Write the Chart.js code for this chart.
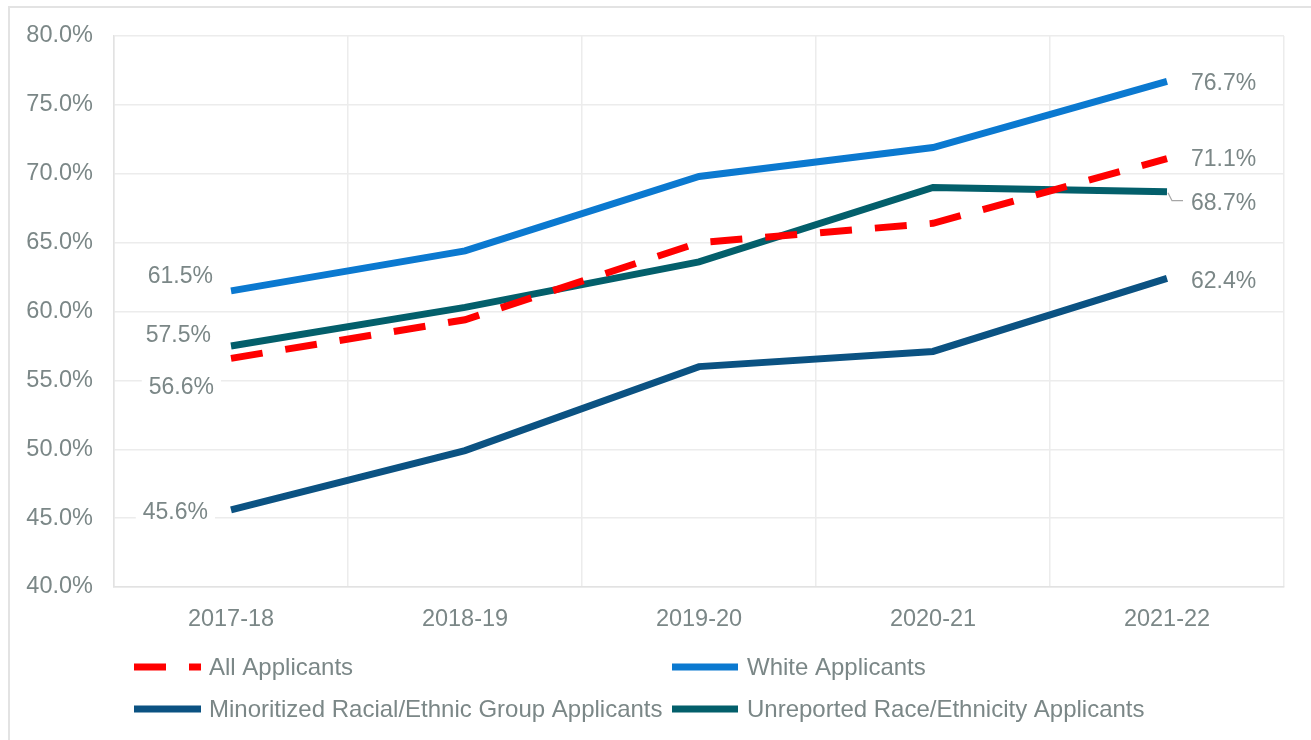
<!DOCTYPE html>
<html>
<head>
<meta charset="utf-8">
<script src="https://cdn.jsdelivr.net/npm/chart.js@4.4.0/dist/chart.umd.min.js"></script>
<style>
  html, body { margin: 0; padding: 0; background: #ffffff; overflow: hidden; }
  #frame { position: absolute; left: 8px; top: 6px; width: 1330px; height: 780px; border: 2px solid #e3e3e3; box-sizing: border-box; }
  #wrap { position: absolute; left: 0; top: 0; width: 1311px; height: 740px; }
</style>
</head>
<body>
<div id="frame"></div>
<div id="wrap"><canvas id="c" width="1311" height="740"></canvas></div>
<script>
// ---- Data ----
const categories = ['2017-18', '2018-19', '2019-20', '2020-21', '2021-22'];
const seriesNames = ['All Applicants', 'White Applicants', 'Minoritized Racial/Ethnic Group Applicants', 'Unreported Race/Ethnicity Applicants'];
const allApplicants = [56.6, 59.4, 65.0, 66.4, 71.1];
const whiteApplicants = [61.5, 64.4, 69.8, 71.9, 76.7];
const minoritizedApplicants = [45.6, 49.9, 56.0, 57.1, 62.4];
const unreportedApplicants = [57.5, 60.3, 63.6, 69.0, 68.7];
const yTicks = [40, 45, 50, 55, 60, 65, 70, 75, 80];

// ---- Styles ----
const TEXT = '#7b8787';
const GRID = '#ececec';
const FONT = '"Liberation Sans", Arial, sans-serif';
const colors = ['#ff0000', '#0b79d0', '#0b5282', '#035f6b'];
const dashes = [[32, 23], [], [], []];
// label offsets: [first point: dx (right edge), dy], [last point: dx (left edge), dy]
const labelOffsets = [
  { first: [-17, 28], last: [24, 0] },
  { first: [-18, -15], last: [24, 1] },
  { first: [-23, 2], last: [24, 2] },
  { first: [-20, -11], last: [24, 11], leader: true }
];
const legendPos = [
  { x1: 134, x2: 201, y: 667, tx: 209 },
  { x1: 672, x2: 738, y: 667, tx: 747 },
  { x1: 134, x2: 201, y: 709, tx: 209 },
  { x1: 672, x2: 738, y: 709, tx: 747 }
];

const seriesValues = [allApplicants, whiteApplicants, minoritizedApplicants, unreportedApplicants];

const labelPlugin = {
  id: 'endLabels',
  afterDatasetsDraw(chart) {
    const ctx = chart.ctx;
    ctx.save();
    ctx.font = '23px ' + FONT;
    ctx.textBaseline = 'middle';
    chart.data.datasets.forEach((ds, i) => {
      const meta = chart.getDatasetMeta(i);
      const n = ds.data.length;
      const off = labelOffsets[i];
      const pts = [[0, off.first, 'right'], [n - 1, off.last, 'left']];
      pts.forEach(([idx, o, align]) => {
        const p = meta.data[idx];
        const txt = ds.data[idx].toFixed(1) + '%';
        const w = ctx.measureText(txt).width;
        const x = p.x + o[0];
        const y = p.y + o[1];
        const left = align === 'right' ? x - w : x;
        ctx.fillStyle = '#ffffff';
        ctx.fillRect(left - 7, y - 14, w + 14, 28);
        if (off.leader && idx === n - 1) {
          ctx.strokeStyle = '#a6a6a6';
          ctx.lineWidth = 1.2;
          ctx.beginPath();
          ctx.moveTo(p.x + 1, p.y + 1);
          ctx.lineTo(p.x + 5, y - 2);
          ctx.lineTo(p.x + 16, y - 2);
          ctx.stroke();
        }
        ctx.fillStyle = TEXT;
        ctx.textAlign = align;
        ctx.fillText(txt, x, y + 1);
      });
    });
    ctx.restore();
  },
  afterDraw(chart) {
    const ctx = chart.ctx;
    ctx.save();
    ctx.font = '24px ' + FONT;
    ctx.textBaseline = 'middle';
    ctx.textAlign = 'left';
    chart.data.datasets.forEach((ds, i) => {
      const lp = legendPos[i];
      ctx.strokeStyle = ds.borderColor;
      ctx.lineWidth = 7;
      ctx.lineCap = 'butt';
      ctx.setLineDash(ds.borderDash || []);
      ctx.beginPath();
      ctx.moveTo(lp.x1, lp.y);
      ctx.lineTo(lp.x2, lp.y);
      ctx.stroke();
      ctx.setLineDash([]);
      ctx.fillStyle = TEXT;
      ctx.fillText(ds.label, lp.tx, lp.y + 1);
    });
    ctx.restore();
  }
};

new Chart(document.getElementById('c'), {
  type: 'line',
  data: {
    labels: categories,
    datasets: seriesValues.map((vals, i) => ({
      label: seriesNames[i],
      data: vals,
      borderColor: colors[i],
      backgroundColor: colors[i],
      borderWidth: 7,
      borderDash: dashes[i],
      borderCapStyle: 'butt',
      pointRadius: 0,
      pointHoverRadius: 0,
      tension: 0,
      fill: false
    }))
  },
  options: {
    responsive: false,
    devicePixelRatio: 1,
    animation: false,
    layout: { padding: { top: 36, right: 27, bottom: 103, left: 0 } },
    plugins: { legend: { display: false }, tooltip: { enabled: false } },
    scales: {
      x: {
        type: 'category',
        offset: true,
        grid: { color: GRID, lineWidth: 1.5, offset: true, drawTicks: false },
        border: { color: '#e2e2e2', width: 1.5 },
        ticks: { color: TEXT, font: { family: FONT, size: 23.5 }, padding: 18, maxRotation: 0 },
        afterFit(s) { s.height = 50; }
      },
      y: {
        min: 40, max: 80,
        afterBuildTicks(s) { s.ticks = yTicks.map(v => ({ value: v })); },
        grid: { color: GRID, lineWidth: 1.5, drawTicks: false },
        border: { color: '#e2e2e2', width: 1.5 },
        ticks: { color: TEXT, font: { family: FONT, size: 23.5 }, padding: 21, callback: v => Number(v).toFixed(1) + '%' },
        afterFit(s) { s.width = 114; }
      }
    }
  },
  plugins: [labelPlugin]
});
</script>
</body>
</html>
